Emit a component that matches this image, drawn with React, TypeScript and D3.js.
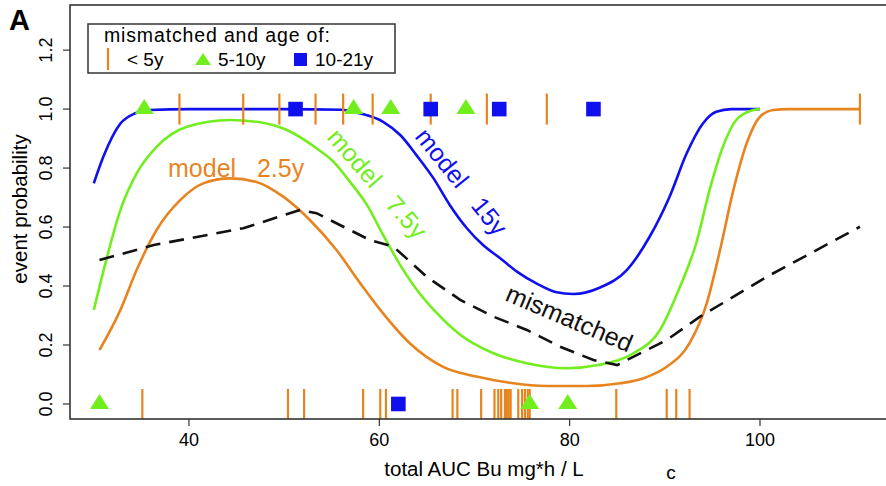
import React from 'react';
import * as d3 from 'd3';

// rug positions (total AUC)
const under5Top = [39.0, 45.7, 49.5, 53.3, 56.2, 59.3, 65.4, 71.3, 77.6, 110.5];
const under5Bottom = [35.1, 50.4, 52.1, 58.3, 60.1, 60.7, 67.7, 68.2, 70.7, 72.1, 72.5, 72.8,
  73.2, 73.4, 73.6, 73.8, 74.6, 75.0, 75.3, 75.6, 75.8, 84.9, 90.2, 91.2, 92.6];
const age5to10Top = [35.3, 57.3, 61.2, 69.1];
const age5to10Bottom = [30.6, 75.8, 79.8];
const age10to21Top = [51.2, 65.4, 72.6, 82.5];
const age10to21Bottom = [62.0];

// model curves [auc, probability]
const model15y: [number, number][] = [
  [30.0, 0.748], [31.0, 0.838], [32.8, 0.951], [34.3, 0.985], [35.9, 0.997], [40, 1.0], [50, 1.0],
  [56.0, 0.998], [58.0, 0.985], [60.4, 0.957], [62.2, 0.912], [63.9, 0.844], [65.7, 0.765],
  [67.4, 0.675], [69.2, 0.596], [70.9, 0.539], [72.7, 0.494], [74.5, 0.448], [76.5, 0.409],
  [78.5, 0.38], [80.4, 0.373], [83.2, 0.395], [86.0, 0.454], [88.4, 0.567], [90.5, 0.703],
  [92.3, 0.85], [94.0, 0.951], [95.4, 0.991], [97, 1.0], [100, 1.0]];
const model7_5y: [number, number][] = [
  [30.0, 0.319], [31.4, 0.499], [32.8, 0.658], [34.5, 0.782], [36.6, 0.872], [39.8, 0.94],
  [44.3, 0.963], [47.1, 0.957], [50.3, 0.929], [53.4, 0.867], [55.2, 0.821], [56.9, 0.754],
  [58.7, 0.675], [60.4, 0.573], [62.2, 0.471], [64.0, 0.385], [65.7, 0.32], [68.5, 0.235],
  [72.0, 0.172], [75.5, 0.138], [79.7, 0.121], [83.0, 0.132], [86.7, 0.172], [89.5, 0.251],
  [91.6, 0.398], [93.3, 0.545], [94.7, 0.725], [96.1, 0.872], [97.5, 0.963], [99.3, 0.997],
  [100, 1.0]];
const model2_5y: [number, number][] = [
  [30.6, 0.183], [32.8, 0.319], [34.5, 0.454], [36.6, 0.59], [39.1, 0.692], [41.5, 0.748],
  [44.3, 0.765], [47.1, 0.753], [49.9, 0.703], [52.7, 0.624], [55.5, 0.522], [58.0, 0.409],
  [60.1, 0.319], [63.2, 0.206], [66.7, 0.126], [70.2, 0.093], [73.7, 0.072], [77.6, 0.061],
  [81.8, 0.061], [85.3, 0.07], [88.0, 0.09], [90.2, 0.126], [92.6, 0.206], [94.4, 0.341],
  [95.8, 0.522], [97.2, 0.725], [98.6, 0.884], [100, 0.974], [101.4, 0.997], [103, 1.0],
  [110.5, 1.0]];
const mismatched: [number, number][] = [
  [30.6, 0.488], [36.3, 0.539], [45.7, 0.596], [51.7, 0.658], [53.4, 0.647], [59.0, 0.556],
  [61.5, 0.533], [65.0, 0.431], [68.5, 0.353], [72.0, 0.296], [75.5, 0.251], [79.0, 0.194],
  [82.5, 0.149], [85.0, 0.132], [86.0, 0.149], [90.2, 0.217], [93.7, 0.296], [100.7, 0.431],
  [110.5, 0.601]];

const xTicks = [40, 60, 80, 100];
const yTicks = [0, 0.2, 0.4, 0.6, 0.8, 1.0, 1.2];

const ORANGE = '#e8841f';
const GREEN = '#72ee1e';
const BLUE = '#1010ee';
const AXIS = '#333';
const FONT = '"Liberation Sans", Arial, sans-serif';

export default function App() {
  const W = 886, H = 486;
  const x = d3.scaleLinear().domain([27.5, 114.5]).range([70, 898]);
  const y = d3.scaleLinear().domain([-0.051, 1.353]).range([419, 5]);

  const smooth = d3.line<[number, number]>().x(d => x(d[0])).y(d => y(d[1])).curve(d3.curveMonotoneX);
  const straight = d3.line<[number, number]>().x(d => x(d[0])).y(d => y(d[1]));

  const tri = (cx: number, cy: number) => `M${cx},${cy - 10}L${cx + 9.5},${cy + 5}L${cx - 9.5},${cy + 5}Z`;
  const sq = (cx: number, cy: number, k: string) =>
    <rect key={k} x={cx - 7.3} y={cy - 7.3} width={14.6} height={14.6} fill={BLUE} />;

  const [x0, x1] = x.range();
  const [y0, y1] = y.range();

  return (
    <svg width={W} height={H} style={{ position: 'absolute', left: 0, top: 0, background: '#fff' }}
      fontFamily={FONT}>
      <text x={9} y={30} fontSize={29} fontWeight="bold">A</text>

      {/* curves */}
      <path d={smooth(model15y) || ''} fill="none" stroke={BLUE} strokeWidth={2.6} />
      <path d={smooth(model7_5y) || ''} fill="none" stroke={GREEN} strokeWidth={2.6} />
      <path d={smooth(model2_5y) || ''} fill="none" stroke={ORANGE} strokeWidth={2.6} />
      <path d={straight(mismatched) || ''} fill="none" stroke="#111" strokeWidth={2.6} strokeDasharray="15,9" />

      {/* rugs */}
      {under5Top.map((v, i) => (
        <line key={'ut' + i} x1={x(v)} x2={x(v)} y1={y(1) - 15.5} y2={y(1) + 15.5} stroke={ORANGE} strokeWidth={2.2} />
      ))}
      {under5Bottom.map((v, i) => (
        <line key={'ub' + i} x1={x(v)} x2={x(v)} y1={y(0) - 15} y2={y(0) + 15} stroke={ORANGE} strokeWidth={2.2} />
      ))}
      {age5to10Top.map((v, i) => <path key={'gt' + i} d={tri(x(v), y(1))} fill={GREEN} />)}
      {age5to10Bottom.map((v, i) => <path key={'gb' + i} d={tri(x(v), y(0))} fill={GREEN} />)}
      {age10to21Top.map((v, i) => sq(x(v), y(1), 'bt' + i))}
      {age10to21Bottom.map((v, i) => sq(x(v), y(0), 'bb' + i))}

      {/* curve labels */}
      <text x={168} y={177} fontSize={25} fill={ORANGE} style={{ whiteSpace: 'pre' }}>model   2.5y</text>
      <text transform="translate(326,138) rotate(49)" fontSize={25} fill={GREEN} style={{ whiteSpace: 'pre' }}>model   7.5y</text>
      <text transform="translate(414,137) rotate(51)" fontSize={25} fill={BLUE} style={{ whiteSpace: 'pre' }}>model   15y</text>
      <text transform="translate(504,300) rotate(23)" fontSize={25} fill="#111">mismatched</text>

      {/* frame + axes */}
      <rect x={x0} y={y1} width={x1 - x0} height={y0 - y1} fill="none" stroke={AXIS} strokeWidth={1.6} />
      {xTicks.map(t => (
        <g key={'xt' + t}>
          <line x1={x(t)} x2={x(t)} y1={y0} y2={y0 + 7} stroke={AXIS} strokeWidth={1.2} />
          <text x={x(t)} y={446} fontSize={18} textAnchor="middle">{t}</text>
        </g>
      ))}
      {yTicks.map(t => (
        <g key={'yt' + t}>
          <line x1={x0 - 7} x2={x0} y1={y(t)} y2={y(t)} stroke={AXIS} strokeWidth={1.2} />
          <text transform={`translate(52,${y(t)}) rotate(-90)`} fontSize={18} textAnchor="middle">{t.toFixed(1)}</text>
        </g>
      ))}
      <text x={484} y={476} fontSize={20.5} textAnchor="middle">total AUC Bu mg*h / L</text>
      <text x={671} y={479} fontSize={19} textAnchor="middle">c</text>
      <text transform="translate(27,209) rotate(-90)" fontSize={20.5} textAnchor="middle">event probability</text>

      {/* legend */}
      <rect x={88} y={24} width={307} height={49} fill="#fff" stroke={AXIS} strokeWidth={1.5} />
      <text x={104} y={42} fontSize={19.5} textLength={226} lengthAdjust="spacing">mismatched and age of:</text>
      <line x1={108} x2={108} y1={48} y2={70} stroke={ORANGE} strokeWidth={2.2} />
      <text x={127} y={66} fontSize={19}>&lt; 5y</text>
      <path d={`M203,53L211,65L195,65Z`} fill={GREEN} />
      <text x={218} y={66} fontSize={19}>5-10y</text>
      <rect x={294} y={53} width={13} height={13} fill={BLUE} />
      <text x={315} y={66} fontSize={19}>10-21y</text>
    </svg>
  );
}
